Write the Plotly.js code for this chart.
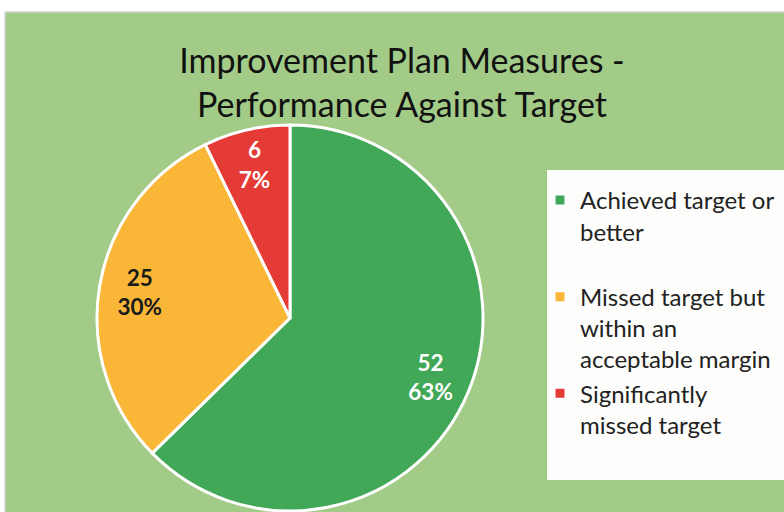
<!DOCTYPE html>
<html>
<head>
<meta charset="utf-8">
<script src="https://cdn.plot.ly/plotly-3.0.1.min.js"></script>
<style>html,body{margin:0;padding:0;background:#fff;}#chart{width:784px;height:512px;}</style>
</head>
<body>
<div id="chart"></div>
<script>
const categories = [
  "Achieved target or<br>better<br> ",
  "Missed target but<br>within an<br>acceptable margin",
  "Significantly<br>missed target"
];
const values = [52, 25, 6];
const sliceColors = ["#41A857", "#F9B637", "#E53B36"];
const labelColors = ["#FFFFFF", "#1A1A1A", "#FFFFFF"];
const titleText = "Improvement Plan Measures -<br>Performance Against Target";

const W = 784, H = 512;
const cx = 290, cy = 318, R = 193;
const pieDomain = { x: [(cx - R) / W, (cx + R) / W], y: [(H - cy - R) / H, (H - cy + R) / H] };
const FONT = "Lato, 'Open Sans', sans-serif";

const pieTrace = {
  type: "pie",
  labels: categories,
  values: values,
  sort: false,
  direction: "clockwise",
  rotation: 0,
  marker: { colors: sliceColors, line: { color: "#FFFFFF", width: 3 } },
  textinfo: "none",
  hoverinfo: "label+value+percent",
  domain: pieDomain
};

// transparent ring carrying the data labels, so they sit toward the rim
const labelTrace = {
  type: "pie",
  labels: categories,
  values: values,
  sort: false,
  direction: "clockwise",
  rotation: 0,
  hole: 0.58,
  showlegend: false,
  marker: { colors: ["rgba(0,0,0,0)", "rgba(0,0,0,0)", "rgba(0,0,0,0)"], line: { width: 0 } },
  textposition: "inside",
  insidetextorientation: "horizontal",
  texttemplate: "<b>%{value}</b><br><b>%{percent:.0%}</b>",
  textfont: { family: FONT, size: 22.5, color: labelColors },
  hoverinfo: "skip",
  domain: pieDomain
};

const layout = {
  width: W, height: H,
  margin: { l: 0, r: 0, t: 0, b: 0 },
  paper_bgcolor: "#FFFFFF",
  showlegend: true,
  title: {
    text: titleText,
    font: { family: FONT, size: 34, color: "#111111" },
    x: 402 / W, xanchor: "center",
    y: 1 - 73 / H, yanchor: "top"
  },
  legend: {
    x: 540 / W, xanchor: "left",
    y: 1 - 178 / H, yanchor: "top",
    bgcolor: "rgba(0,0,0,0)",
    font: { family: FONT, size: 24, color: "#222222" },
    valign: "top",
    traceorder: "normal",
    itemclick: false
  },
  shapes: [
    { type: "rect", xref: "paper", yref: "paper", layer: "below",
      x0: 5 / W, x1: 1.01, y0: -0.01, y1: 1 - 12 / H,
      fillcolor: "#A2CB88", line: { color: "#D4D4D4", width: 1.5 } },
    { type: "rect", xref: "paper", yref: "paper", layer: "below",
      x0: 547 / W, x1: 1.01, y0: 1 - 480 / H, y1: 1 - 170 / H,
      fillcolor: "#FDFDFB", line: { width: 0 } }
  ]
};

Plotly.newPlot("chart", [pieTrace, labelTrace], layout, { displayModeBar: false, staticPlot: true });
</script>
</body>
</html>
